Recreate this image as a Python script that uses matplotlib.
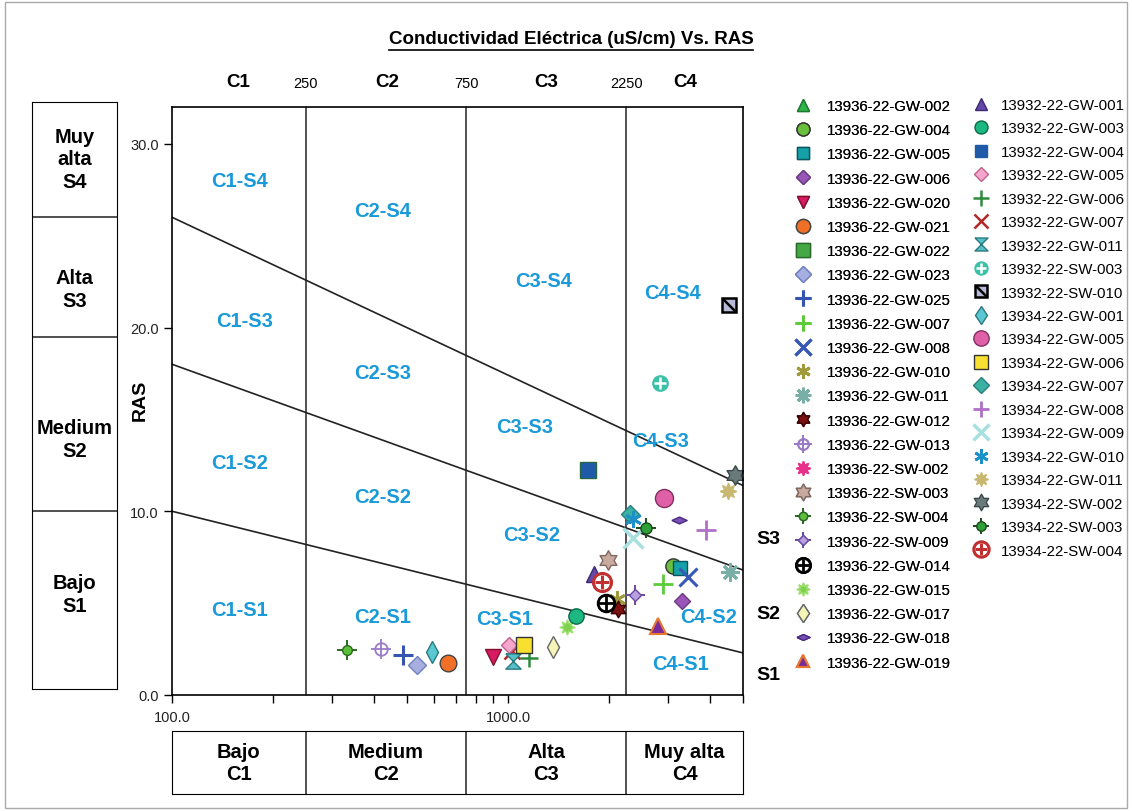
import numpy as np
import matplotlib
matplotlib.use("Agg")
import matplotlib.pyplot as plt
from matplotlib.path import Path
from matplotlib.lines import Line2D
from matplotlib.patches import Rectangle
from matplotlib.ticker import FixedLocator, LogLocator, NullFormatter
import matplotlib.transforms as mtransforms

plt.rcParams['font.family'] = ['Liberation Sans', 'DejaVu Sans']

# ---- muestras: conductividad (uS/cm) y RAS ----
names_a = ['13936-22-GW-002', '13936-22-GW-004', '13936-22-GW-005', '13936-22-GW-006',
           '13936-22-GW-020', '13936-22-GW-021', '13936-22-GW-022', '13936-22-GW-023',
           '13936-22-GW-025', '13936-22-GW-007', '13936-22-GW-008', '13936-22-GW-010',
           '13936-22-GW-011', '13936-22-GW-012', '13936-22-GW-013', '13936-22-SW-002',
           '13936-22-SW-003', '13936-22-SW-004', '13936-22-SW-009', '13936-22-GW-014',
           '13936-22-GW-015', '13936-22-GW-017', '13936-22-GW-018', '13936-22-GW-019']
ce_a = [2793, 3098, 3250, 3300, 900, 663, 1730, 536, 486, 2885, 3435, 2105,
        4584, 2123, 419, 1906, 1985, 331, 2389, 1960, 1499, 1361, 3228, 2793]
ras_a = [3.77, 7.0, 6.9, 5.1, 2.07, 1.74, 12.26, 1.65, 2.18, 6.04, 6.42, 5.2,
         6.7, 4.7, 2.5, 6.17, 7.35, 2.45, 5.46, 5.0, 3.7, 2.6, 9.5, 3.77]

names_b = ['13932-22-GW-001', '13932-22-GW-003', '13932-22-GW-004', '13932-22-GW-005',
           '13932-22-GW-006', '13932-22-GW-007', '13932-22-GW-011', '13932-22-SW-003',
           '13932-22-SW-010', '13934-22-GW-001', '13934-22-GW-005', '13934-22-GW-006',
           '13934-22-GW-007', '13934-22-GW-008', '13934-22-GW-009', '13934-22-GW-010',
           '13934-22-GW-011', '13934-22-SW-002', '13934-22-SW-003', '13934-22-SW-004']
ce_b = [1803, 1592, 1730, 1007, 1155, 1028, 1035, 2833, 4550, 594, 2911, 1117,
        2308, 3874, 2350, 2356, 4517, 4745, 2577, 1906]
ras_b = [6.6, 4.3, 12.26, 2.72, 2.0, 2.4, 1.85, 17.0, 21.2, 2.33, 10.7, 2.72,
         9.85, 9.0, 8.55, 9.6, 11.1, 12.0, 9.09, 6.17]

# limites de clases
ce_limits = [250, 750, 2250]
s_lines_left = [10.0, 18.0, 26.0]     # RAS a 100 uS/cm
s_lines_right = [2.29, 6.8, 11.4]     # RAS a 5000 uS/cm

# ---- formas de marcador ----
hexagram = Path.unit_regular_star(6, 0.577)
hourglass = Path([(-1, 1), (1, 1), (-1, -1), (1, -1), (-1, 1)])
flat_diamond = Path([(-1, 0), (0, 0.45), (1, 0), (0, -0.45), (-1, 0)])
diagonal = Path([(-1, 1), (1, -1)], [Path.MOVETO, Path.LINETO])
asterisk6 = (6, 2, 0)
asterisk8 = (8, 2, 0)
spiky = (8, 1, 0)


def L(marker, ms, mfc, mec=None, mew=1.0):
    return dict(marker=marker, ms=ms, mfc=mfc, mec=mec if mec else mfc, mew=mew)


styles_a = [
    [L('^', 10, '#2fb34a', '#1a7a30')],
    [L('o', 11, '#6abf3c', '#333333')],
    [L('s', 10, '#16a0a8', '#0b5560')],
    [L('D', 8, '#9a55b8', '#6a3a80')],
    [L('v', 11, '#d81b60', '#801030')],
    [L('o', 12, '#f07028', '#444444')],
    [L('s', 12, '#45a845', '#2a6a2a')],
    [L('D', 9, '#a7aee0', '#7080c0')],
    [L('+', 14, 'none', '#3553b0', 2.2)],
    [L('+', 14, 'none', '#5ccb3a', 2.0)],
    [L('x', 13, 'none', '#3858b8', 2.2)],
    [L(asterisk6, 12, 'none', '#a09a3a', 2.0)],
    [L(asterisk8, 13, 'none', '#78b0a8', 2.0)],
    [L(hexagram, 12, '#7a1010', '#3a0000')],
    [L('o', 9, 'none', '#9a7ac8', 1.3), L('+', 15, 'none', '#9a7ac8', 1.3)],
    [L(spiky, 12, '#e8308a', '#e8308a')],
    [L(hexagram, 14, '#c9aaa0', '#806860')],
    [L('+', 14, 'none', '#2a6a20', 1.4), L('o', 7, '#5cbf3c', '#2a6a20')],
    [L('+', 14, 'none', '#6a4aa0', 1.4), L('D', 6, '#b8a0e0', '#6a4aa0')],
    [L('o', 12, 'white', 'black', 2.0), L('+', 11, 'none', 'black', 2.0)],
    [L(spiky, 11, '#7ed04e', '#9ee070')],
    [L('d', 11, '#f5f5b8', '#666666')],
    [L(flat_diamond, 11, '#7a4fb8', '#4a2a80')],
    [L('^', 11, '#7b2a9a', '#e87830', 1.5)],
]

styles_b = [
    [L('^', 11, '#6548a8', '#3a2870')],
    [L('o', 11, '#1db882', '#0a6a4a')],
    [L('s', 10, '#1f5aa8', '#1f5aa8')],
    [L('D', 8, '#f4a6cc', '#c06090')],
    [L('+', 13, 'none', '#2e8b3e', 1.8)],
    [L('x', 12, 'none', '#b02828', 1.8)],
    [L(hourglass, 11, '#55c0c8', '#2a7a80')],
    [L('o', 11, '#3cc0a8', '#3cc0a8'), L('+', 8, 'none', 'white', 1.8)],
    [L('s', 10, '#b8b8d8', 'black', 1.8), L(diagonal, 10, 'none', 'black', 1.8)],
    [L('d', 11, '#5ac8d0', '#2a7a80')],
    [L('o', 13, '#e060a8', '#803060')],
    [L('s', 12, '#f8e030', '#333333')],
    [L('D', 9, '#3ab0a0', '#2a8080')],
    [L('+', 14, 'none', '#b070c8', 2.0)],
    [L('x', 14, 'none', '#a8e0e0', 2.5)],
    [L(asterisk6, 12, 'none', '#1e90c8', 2.0)],
    [L(spiky, 12, '#c8b870', '#c8b870')],
    [L(hexagram, 14, '#6a7a7a', '#3a4a4a')],
    [L('+', 14, 'none', '#1a4a1a', 1.4), L('o', 8, '#2ea03a', '#1a4a1a')],
    [L('o', 13, 'white', '#c03030', 2.2), L('+', 10, 'none', '#c03030', 2.2)],
]

# muestras tapadas por otras
low_z = {'13936-22-GW-002', '13936-22-SW-002', '13932-22-GW-007', '13936-22-GW-022'}

fig = plt.figure(figsize=(11.32, 8.12), dpi=100)
W, H = 1132, 812
ax = fig.add_axes([172 / W, 1 - 696 / H, 571 / W, 588 / H])
ax.set_xscale('log')
ax.set_xlim(100, 5000)
ax.set_ylim(0, 32)

# divisiones de clases
for c in ce_limits:
    ax.axvline(c, color='#333333', lw=1.2, zorder=1)
xs_line = np.array([100, 5000])
for yl, yr in zip(s_lines_left, s_lines_right):
    ax.plot(xs_line, [yl, yr], color='#222222', lw=1.2, zorder=1)


def draw_series(names, ce, ras, styles):
    handles = []
    for n, x, y, st in zip(names, ce, ras, styles):
        z = 1.5 if n in low_z else 2
        parts = []
        for k, layer in enumerate(st):
            ln, = ax.plot([x], [y], ls='none', zorder=z + 0.01 * k, **layer)
            parts.append(ln)
        handles.append(tuple(parts))
    return handles


h_a = draw_series(names_a, ce_a, ras_a, styles_a)
h_b = draw_series(names_b, ce_b, ras_b, styles_b)

# etiquetas de zonas
zone_text = ['C1-S4', 'C1-S3', 'C1-S2', 'C1-S1', 'C2-S4', 'C2-S3', 'C2-S2', 'C2-S1',
             'C3-S4', 'C3-S3', 'C3-S2', 'C3-S1', 'C4-S4', 'C4-S3', 'C4-S2', 'C4-S1']
zone_x = [159, 164, 159, 159, 422, 422, 422, 422, 1279, 1117, 1178, 973, 3077, 2833, 3936, 3250]
zone_y = [27.98, 20.36, 12.63, 4.68, 26.35, 17.53, 10.78, 4.25,
          22.54, 14.59, 8.71, 4.14, 21.88, 13.83, 4.25, 1.74]
for t, x, y in zip(zone_text, zone_x, zone_y):
    ax.text(x, y, t, color='#1a9ad8', fontsize=14.5, fontweight='bold',
            ha='center', va='center', zorder=1.8)

# ejes
ax.xaxis.set_major_locator(FixedLocator([100, 1000]))
ax.set_xticklabels(['100.0', '1000.0'])
ax.xaxis.set_minor_locator(LogLocator(subs=np.arange(2, 10)))
ax.xaxis.set_minor_formatter(NullFormatter())
ax.set_yticks([0, 10, 20, 30])
ax.set_yticklabels(['0.0', '10.0', '20.0', '30.0'])
ax.tick_params(axis='both', which='both', direction='out', length=6, width=1,
               labelsize=10.5, labelcolor='#222222', top=False, right=False)
ax.tick_params(axis='x', which='major', pad=5)
for s in ax.spines.values():
    s.set_linewidth(1.2)
ax.set_ylabel('RAS', fontsize=14, fontweight='bold')
ax.yaxis.set_label_coords(-23 / 571, (696 - 400) / 588)

top = mtransforms.blended_transform_factory(ax.transData, ax.transAxes)
for lab, x in zip(['C1', 'C2', 'C3', 'C4'], [157, 436, 1297, 3365]):
    ax.text(x, 1.044, lab, transform=top, fontsize=13.5, fontweight='bold',
            ha='center', va='center')
for c in ce_limits:
    ax.text(c, 1.04, str(c), transform=top, fontsize=10.5, ha='center', va='center')

right = mtransforms.blended_transform_factory(ax.transAxes, ax.transData)
for lab, y in zip(['S3', 'S2', 'S1'], [8.5, 4.46, 1.09]):
    ax.text(1.044, y, lab, transform=right, fontsize=14, fontweight='bold',
            ha='center', va='center')

# cuadro inferior: clases de conductividad
axb = fig.add_axes([172 / W, 1 - 795 / H, 571 / W, 63 / H])
axb.set_xscale('log')
axb.set_xlim(100, 5000)
axb.set_ylim(0, 1)
axb.set_xticks([])
axb.set_yticks([])
axb.minorticks_off()
for c in ce_limits:
    axb.axvline(c, color='#333333', lw=1.2)
bounds = [100] + ce_limits + [5000]
for i, lab in enumerate(['Bajo\nC1', 'Medium\nC2', 'Alta\nC3', 'Muy alta\nC4']):
    axb.text(np.sqrt(bounds[i] * bounds[i + 1]), 0.5, lab, fontsize=14.5,
             fontweight='bold', ha='center', va='center', linespacing=1.2)

# cuadro izquierdo: clases de sodio
axl = fig.add_axes([32 / W, 1 - 690 / H, 85 / W, 587 / H])
axl.set_xlim(0, 1)
axl.set_ylim(0, 1)
axl.set_xticks([])
axl.set_yticks([])
for f in [0.303, 0.600, 0.804]:
    axl.axhline(f, color='#333333', lw=1.2)
for lab, f in zip(['Bajo\nS1', 'Medium\nS2', 'Alta\nS3', 'Muy\nalta\nS4'],
                  [0.162, 0.426, 0.681, 0.903]):
    axl.text(0.5, f, lab, fontsize=14.5, fontweight='bold', ha='center',
             va='center', linespacing=1.25)

# leyendas
leg1 = fig.legend(h_a, names_a, loc='upper left', bbox_to_anchor=(791 / W, 1 - 100 / H),
                  frameon=False, fontsize=10.8, numpoints=1, markerscale=0.85,
                  handlelength=1.6, handletextpad=0.8, labelspacing=0.68,
                  borderpad=0, borderaxespad=0)
leg2 = fig.legend(h_b, names_b, loc='upper left', bbox_to_anchor=(969 / W, 1 - 99 / H),
                  frameon=False, fontsize=10.8, numpoints=1, markerscale=0.85,
                  handlelength=1.6, handletextpad=0.55, labelspacing=0.63,
                  borderpad=0, borderaxespad=0)
fig.add_artist(leg1)

# titulo subrayado
title = fig.text(571 / W, 1 - 40 / H, 'Conductividad Eléctrica (uS/cm) Vs. RAS',
                 fontsize=13.5, fontweight='bold', ha='center', va='center')
fig.canvas.draw()
bb = title.get_window_extent()
yline = (bb.y0 - 2) / fig.bbox.height
fig.add_artist(Line2D([bb.x0 / fig.bbox.width, bb.x1 / fig.bbox.width], [yline, yline],
                      transform=fig.transFigure, color='black', lw=1.2))

fig.add_artist(Rectangle((0.004, 0.004), 0.992, 0.992, transform=fig.transFigure,
                         fill=False, ec='#aaaaaa', lw=1))

fig.savefig('out.png', dpi=100)
